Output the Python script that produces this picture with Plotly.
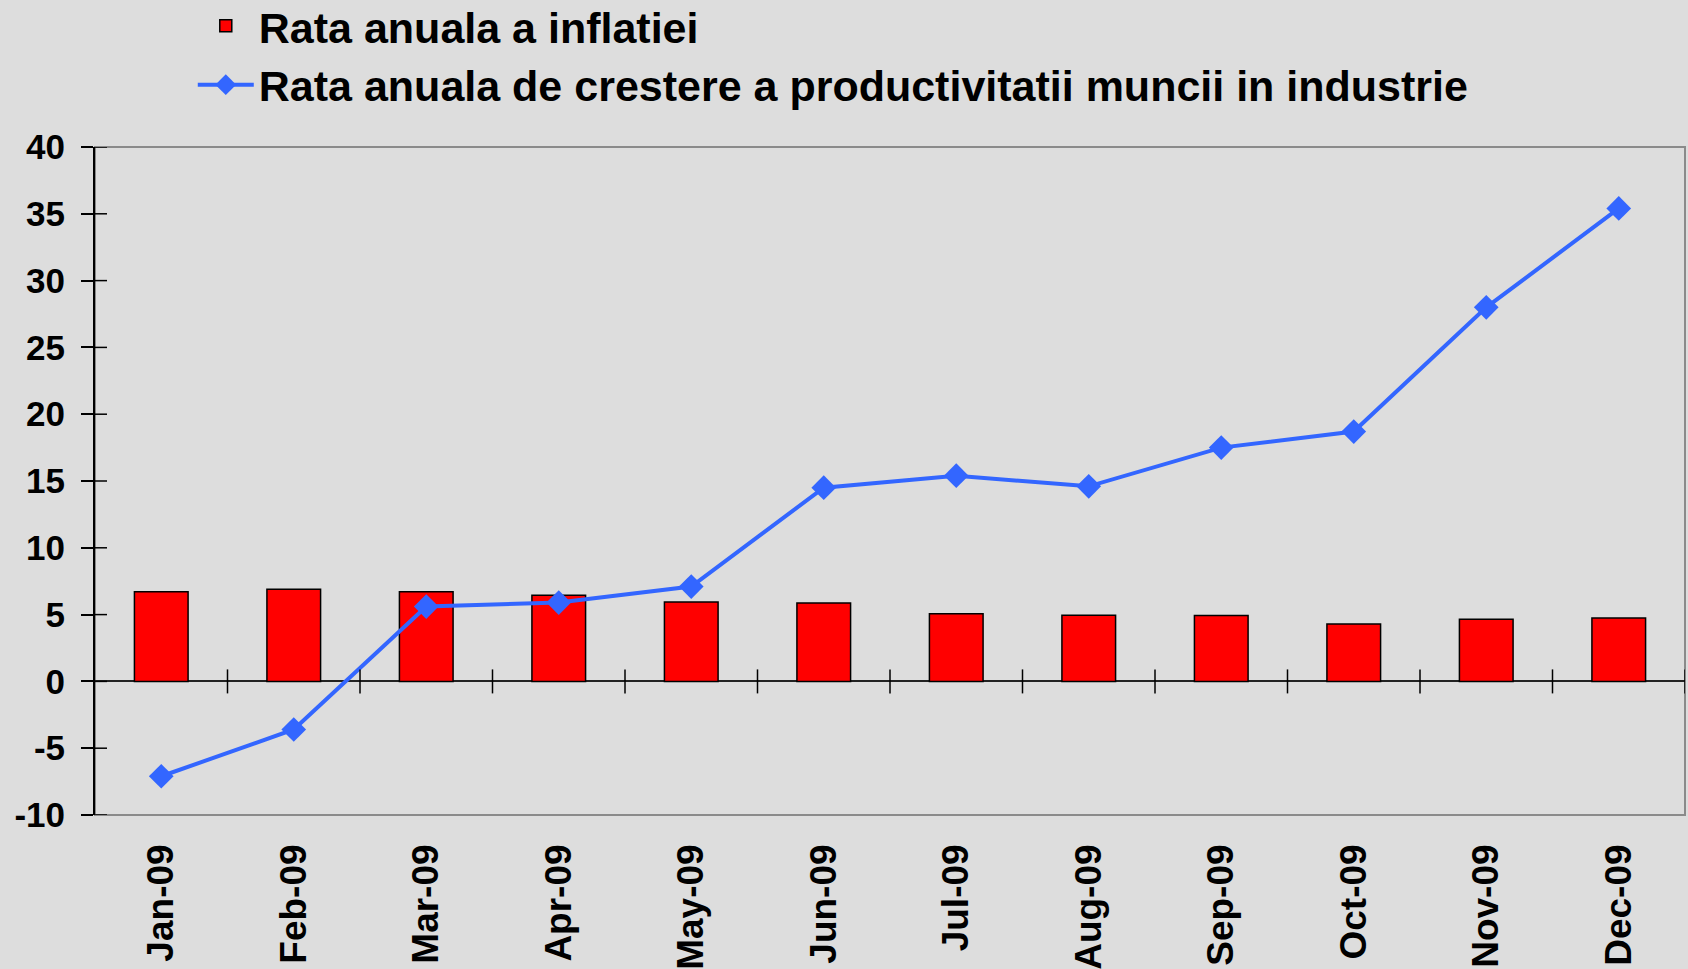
import plotly.graph_objects as go

categories = ["Jan-09", "Feb-09", "Mar-09", "Apr-09", "May-09", "Jun-09",
              "Jul-09", "Aug-09", "Sep-09", "Oct-09", "Nov-09", "Dec-09"]
inflation = [6.71, 6.89, 6.71, 6.45, 5.95, 5.86, 5.06, 4.96, 4.94, 4.30, 4.65, 4.74]
productivity = [-7.1, -3.6, 5.6, 5.9, 7.1, 14.5, 15.4, 14.6, 17.5, 18.7, 28.0, 35.4]
name_infl = "Rata anuala a inflatiei"
name_prod = "Rata anuala de crestere a productivitatii muncii in industrie"
y_ticks = [-10, -5, 0, 5, 10, 15, 20, 25, 30, 35, 40]
y_tick_labels = ["-10", "-5", "0", "5", "10", "15", "20", "25", "30", "35", "40"]

FONT = "Liberation Sans, Arial, sans-serif"
BG = "#DDDDDD"

fig = go.Figure()
fig.add_trace(go.Bar(
    x=categories, y=inflation, name=name_infl,
    marker=dict(color="#FF0000", line=dict(color="#000000", width=1.5)),
))
fig.add_trace(go.Scatter(
    x=categories, y=productivity, name=name_prod, mode="lines+markers",
    line=dict(color="#3366FF", width=4),
    marker=dict(symbol="diamond", size=19, color="#3366FF"),
))

shapes = []
# plot frame (gray) on top, right, bottom
shapes.append(dict(type="rect", xref="paper", yref="paper", x0=0, x1=1, y0=0, y1=1,
                   line=dict(color="#8A8A8A", width=2), layer="below"))
# inner halves of y ticks
for v in y_ticks:
    shapes.append(dict(type="line", xref="x", yref="y", xsizemode="pixel", xanchor=-0.5,
                       x0=0, x1=12, y0=v, y1=v, line=dict(color="#000000", width=1.5)))
# x ticks crossing the zero line at category boundaries
for i in range(1, len(categories) + 1):
    shapes.append(dict(type="line", xref="x", yref="y", ysizemode="pixel", yanchor=0,
                       x0=i - 0.5, x1=i - 0.5, y0=-12, y1=12,
                       line=dict(color="#000000", width=1.5)))

fig.update_layout(
    width=1688, height=969,
    paper_bgcolor=BG, plot_bgcolor=BG,
    margin=dict(l=95, r=3, t=147, b=154, autoexpand=False),
    font=dict(family=FONT, color="#000000"),
    bargap=0.595,
    showlegend=True,
    legend=dict(x=0.0615, y=1.233, xanchor="left", yanchor="top",
                font=dict(size=43, family=FONT, weight="bold", color="#000000"),
                bgcolor="rgba(0,0,0,0)", itemwidth=56, tracegroupgap=0),
    shapes=shapes,
    xaxis=dict(type="category", range=[-0.5, len(categories) - 0.5], automargin=False,
               showgrid=False, zeroline=False, showline=False, ticks="",
               tickangle=-90, ticklabelstandoff=21,
               tickfont=dict(size=37, family=FONT, weight="bold", color="#000000")),
    yaxis=dict(range=[y_ticks[0], y_ticks[-1]], tickvals=y_ticks, ticktext=y_tick_labels,
               automargin=False,
               showgrid=False, zeroline=True, zerolinecolor="#222222", zerolinewidth=2,
               showline=True, linecolor="#000000", linewidth=2,
               ticks="outside", ticklen=12, tickwidth=1.5, tickcolor="#000000",
               ticklabelstandoff=9,
               tickfont=dict(size=35, family=FONT, weight="bold", color="#000000")),
)

fig.write_html("out.html", config={"displayModeBar": False},
               post_script="document.body.style.margin='0';")
